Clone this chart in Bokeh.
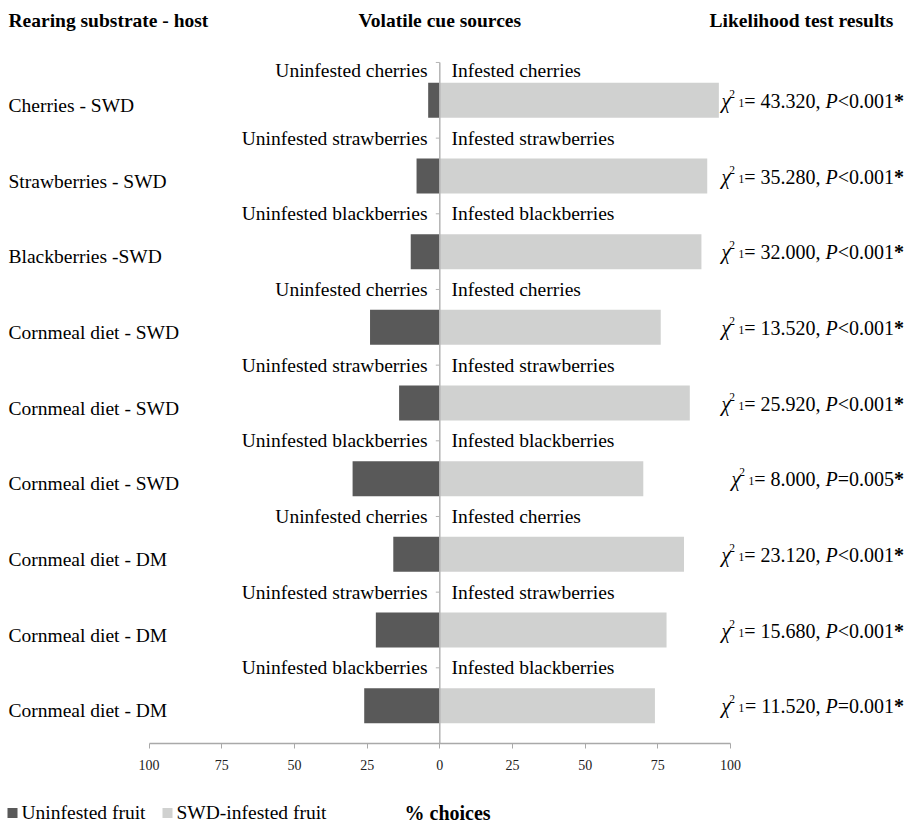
import numpy as np
from bokeh.plotting import figure
from bokeh.models import Range1d, LinearAxis, FixedTicker, ColumnDataSource
from bokeh.layouts import column
from bokeh.core.properties import value
from bokeh.embed import file_html
from bokeh.resources import INLINE

# ---------------- data ----------------
hosts = ["Cherries - SWD", "Strawberries - SWD", "Blackberries -SWD",
         "Cornmeal diet - SWD", "Cornmeal diet - SWD", "Cornmeal diet - SWD",
         "Cornmeal diet - DM", "Cornmeal diet - DM", "Cornmeal diet - DM"]
fruits = ["cherries", "strawberries", "blackberries",
          "cherries", "strawberries", "blackberries",
          "cherries", "strawberries", "blackberries"]
uninfested_pct = [4, 8, 10, 24, 14, 30, 16, 22, 26]
infested_pct = [96, 92, 90, 76, 86, 70, 84, 78, 74]
chi2_values = ["43.320", "35.280", "32.000", "13.520", "25.920",
               "8.000", "23.120", "15.680", "11.520"]
p_values = ["<0.001", "<0.001", "<0.001", "<0.001", "<0.001",
            "=0.005", "<0.001", "<0.001", "=0.001"]
x_ticks = [-100, -75, -50, -25, 0, 25, 50, 75, 100]
x_tick_labels = ["100", "75", "50", "25", "0", "25", "50", "75", "100"]
headings = ["Rearing substrate - host", "Volatile cue sources", "Likelihood test results"]
legend_labels = ["Uninfested fruit", "SWD-infested fruit"]
axis_title = "% choices"

# ---------------- style / layout ----------------
DARK = "#595959"
LIGHT = "#d0d1d0"
AXIS_GREY = "#a9a9a9"
FONT = "Liberation Serif"
FS = 19.5            # main font size px
FS_CHI = 20.0        # likelihood text size px
FS_SMALL = 11.5      # super/subscript size px
SHIFT = 7            # px correction of the rendered text baseline
W = 912
H1 = 783
H2 = 39
FRAME_BOTTOM = 743   # canvas px
ROW_PX = 75.67       # px per category
ROW0 = 99.8          # canvas y of first row centre
XPX = 2.907          # px per % unit
X0 = 439.3           # canvas x of 0 %

n = len(hosts)
rows = np.arange(n)


def x_of(cx):
    return (cx - X0) / XPX


def y_of(cy):
    return (cy - ROW0) / ROW_PX


def dy(px):
    return px / ROW_PX


p = figure(width=W, height=H1, output_backend="svg", toolbar_location=None,
           x_range=Range1d(x_of(0), x_of(W)),
           y_range=Range1d(y_of(FRAME_BOTTOM), y_of(0)),
           x_axis_location=None, y_axis_location=None,
           min_border_left=0, min_border_right=0, min_border_top=0,
           min_border_bottom=H1 - FRAME_BOTTOM)
p.outline_line_color = None
p.background_fill_color = "white"
p.border_fill_color = "white"
p.grid.visible = False

# bars
bar_h = 35 / ROW_PX
p.hbar(y=rows, left=-np.array(uninfested_pct), right=0, height=bar_h,
       fill_color=DARK, line_color=None)
p.hbar(y=rows, left=0, right=np.array(infested_pct), height=bar_h,
       fill_color=LIGHT, line_color=None)

# central category axis with boundary ticks
bounds = np.arange(n + 1) - 0.5
p.segment(x0=[0], y0=[bounds[0]], x1=[0], y1=[bounds[-1]],
          line_color="#b4b4b4", line_width=1.5)
p.segment(x0=np.zeros(n + 1), y0=bounds, x1=np.full(n + 1, -4 / XPX), y1=bounds,
          line_color="#b4b4b4", line_width=1)

# x axis
xaxis = LinearAxis(ticker=FixedTicker(ticks=x_ticks),
                   major_label_overrides={t: l for t, l in zip(x_ticks, x_tick_labels)},
                   bounds=(x_ticks[0], x_ticks[-1]))
xaxis.axis_line_color = AXIS_GREY
xaxis.axis_line_width = 1.5
xaxis.major_tick_line_color = AXIS_GREY
xaxis.minor_tick_line_color = None
xaxis.major_tick_out = 5
xaxis.major_tick_in = 0
xaxis.major_label_standoff = 11
xaxis.major_label_text_font = FONT
xaxis.major_label_text_font_size = "14px"
xaxis.major_label_text_color = "#222222"
p.add_layout(xaxis, "below")


def txt(fig, xs, ys, texts, size=FS, style="normal", align="left", color="black"):
    src = ColumnDataSource(dict(x=list(xs), y=list(ys), text=list(texts)))
    fig.text(x="x", y="y", text="text", source=src,
             text_font=value(FONT), text_font_size=value(f"{size}px"),
             text_font_style=style, text_align=align,
             text_baseline="alphabetic", text_color=color)


# headings
head_y = y_of(26.5 - SHIFT)
txt(p, [x_of(8)], [head_y], [headings[0]], style="bold")
txt(p, [0], [head_y], [headings[1]], style="bold", align="center")
txt(p, [x_of(801)], [head_y], [headings[2]], style="bold", align="center")

# host labels (left)
txt(p, [x_of(8)] * n, rows + dy(12.2 - SHIFT), hosts)

# cue source labels
lab_y = rows - 0.5 + dy(7 - SHIFT) + np.array([dy(8)] + [0] * (n - 1))
txt(p, [-12.3 / XPX] * n, lab_y, ["Uninfested " + f for f in fruits], align="right")
txt(p, [11.7 / XPX] * n, lab_y, ["Infested " + f for f in fruits])

# likelihood test texts, composed right to left
REG = {c: 0.5 for c in "0123456789"}
REG.update({".": 0.25, ",": 0.25, " ": 0.25, "=": 0.564, "<": 0.564})


def wreg(s, size=FS_CHI):
    return sum(REG[c] for c in s) * size


R = 903.5
base = rows + dy(7.8 - SHIFT)
star_x, pv_x, P_x, eq_x, sub_x, sup_x, chi_x = [], [], [], [], [], [], []
eq_txt = []
for i in range(n):
    xs = R
    star_x.append(x_of(xs))
    xs -= 0.5 * FS_CHI
    pv_x.append(x_of(xs))
    xs -= wreg(p_values[i])
    P_x.append(x_of(xs))
    xs -= 0.611 * FS_CHI + 0.25 * FS_CHI
    e = "= " + chi2_values[i] + ","
    eq_txt.append(e)
    eq_x.append(x_of(xs))
    xs -= wreg(e)
    sub_x.append(x_of(xs))
    xs -= 0.5 * FS_SMALL + 3.5
    sup_x.append(x_of(xs))
    xs -= 0.5 * FS_SMALL - 1
    chi_x.append(x_of(xs))

txt(p, star_x, base, ["*"] * n, size=FS_CHI, style="bold", align="right")
txt(p, pv_x, base, p_values, size=FS_CHI, align="right")
txt(p, P_x, base, ["P"] * n, size=FS_CHI, style="italic", align="right")
txt(p, eq_x, base, eq_txt, size=FS_CHI, align="right")
txt(p, sub_x, base + dy(2), ["1"] * n, size=FS_SMALL, align="right")
txt(p, sup_x, base - dy(7), ["2"] * n, size=FS_SMALL, align="right")
txt(p, chi_x, base, ["\u03c7"] * n, size=FS_CHI, style="italic", align="right")

# ---------------- legend row ----------------
p2 = figure(width=W, height=H2, output_backend="svg", toolbar_location=None,
            x_range=Range1d(0, W), y_range=Range1d(H2, 0),
            x_axis_location=None, y_axis_location=None, min_border=0)
p2.outline_line_color = None
p2.background_fill_color = "white"
p2.border_fill_color = "white"
p2.grid.visible = False
p2.scatter(x=[12, 167], y=[29.5, 29.5], marker="square", size=10,
           fill_color=[DARK, LIGHT], line_color=None)
txt(p2, [21, 176], [36 - SHIFT, 36 - SHIFT], legend_labels)
txt(p2, [404], [36 - SHIFT], [axis_title], size=20, style="bold")

layout = column(p, p2, spacing=0)
open("out.html", "w").write(file_html(layout, INLINE))
